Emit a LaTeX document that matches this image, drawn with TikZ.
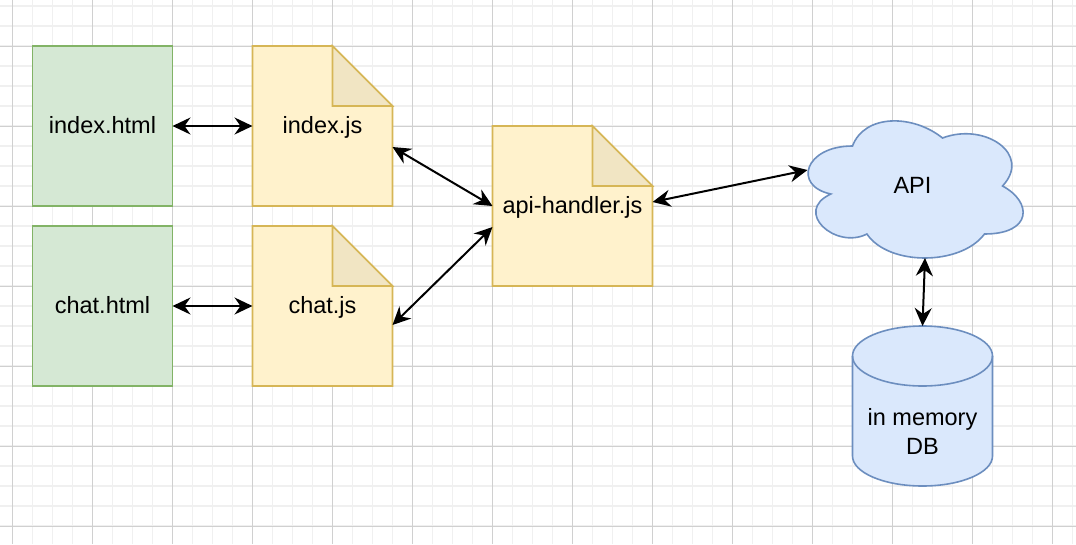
\documentclass[tikz,border=0pt]{standalone}
\usepackage{fontspec}
\setmainfont{Liberation Sans}
\usetikzlibrary{arrows.meta}

\definecolor{pageFill}{HTML}{D5E8D4}
\definecolor{pageLine}{HTML}{82B366}
\definecolor{jsFill}{HTML}{FFF2CC}
\definecolor{jsLine}{HTML}{D6B656}
\definecolor{jsFold}{HTML}{F1E5C3}
\definecolor{svcFill}{HTML}{DAE8FC}
\definecolor{svcLine}{HTML}{6C8EBF}
\definecolor{gridMinor}{HTML}{F0F0F0}
\definecolor{gridMajor}{HTML}{D0D0D0}

\pgfdeclarelayer{grid}
\pgfdeclarelayer{shapes}
\pgfsetlayers{grid,shapes,main}

\tikzset{
  label font/.style={font=\fontsize{23.5}{29}\selectfont},
  htmlpage/.style={label font, draw=pageLine, fill=pageFill, line width=1.6pt,
    minimum width=140pt, minimum height=160pt, inner sep=0pt, outer sep=0pt,
    text height=18pt, text depth=4pt},
  jsnote/.style={label font, minimum width=#1, minimum height=160pt,
    inner sep=0pt, outer sep=0pt, text height=18pt, text depth=4pt},
  jsnote/.default=140pt,
  noteline/.style={draw=jsLine, fill=jsFill, line width=1.6pt, line join=miter},
  foldline/.style={draw=jsLine, fill=jsFold, line width=1.6pt, line join=miter},
  svcline/.style={draw=svcLine, fill=svcFill, line width=1.6pt},
  tip/.tip={Stealth[length=18pt,width=17pt,inset=6pt]},
  link/.style={line width=2pt, tip-tip},
}

% folded-corner file outline drawn behind a named node
\newcommand{\foldednote}[1]{%
  \begin{pgfonlayer}{shapes}
    \path[noteline] (#1.south west) -- (#1.north west)
      -- ([xshift=-60pt]#1.north east) -- ([yshift=-60pt]#1.north east)
      -- (#1.south east) -- cycle;
    \path[foldline] ([xshift=-60pt]#1.north east)
      -- ([xshift=-60pt,yshift=-60pt]#1.north east)
      -- ([yshift=-60pt]#1.north east) -- cycle;
  \end{pgfonlayer}}

\begin{document}
\begin{tikzpicture}[x=1pt,y=-1pt]
\useasboundingbox (0,0) rectangle (1076,544);

% background grid
\begin{pgfonlayer}{grid}
  \fill[white] (0,0) rectangle (1076,544);
  \foreach \i in {0,...,53}
    \draw[gridMinor, line width=1.2pt] (12.5+20*\i,0) -- (12.5+20*\i,544);
  \foreach \j in {0,...,27}
    \draw[gridMinor, line width=1.2pt] (0,6+20*\j) -- (1076,6+20*\j);
  \foreach \i in {0,...,13}
    \draw[gridMajor, line width=0.9pt] (12.5+80*\i,0) -- (12.5+80*\i,544);
  \foreach \j in {0,...,6}
    \draw[gridMajor, line width=0.9pt] (0,46+80*\j) -- (1076,46+80*\j);
\end{pgfonlayer}

% html pages
\node[htmlpage] (ihtml) at (102.5,126) {index.html};
\node[htmlpage] (chtml) at (102.5,306) {chat.html};

% script files
\node[jsnote] (ijs) at (322.5,126) {index.js};
\foldednote{ijs}
\node[jsnote] (cjs) at (322.5,306) {chat.js};
\foldednote{cjs}
\node[jsnote=160pt] (ah) at (572.5,206) {api-handler.js};
\foldednote{ah}

% API cloud
\begin{pgfonlayer}{shapes}
  \path[svcline] (852.5,146)
    .. controls (804.5,146) and (792.5,186) .. (830.9,194)
    .. controls (792.5,211.6) and (835.7,250) .. (866.9,234)
    .. controls (888.5,266) and (960.5,266) .. (984.5,234)
    .. controls (1032.5,234) and (1032.5,202) .. (1002.5,186)
    .. controls (1032.5,154) and (984.5,122) .. (942.5,138)
    .. controls (912.5,114) and (864.5,114) .. (852.5,146) -- cycle;
\end{pgfonlayer}
\node[label font, text height=18pt, text depth=4pt] (api) at (912.5,186) {API};
\coordinate (apiW) at (807.5,170);
\coordinate (apiS) at (925,258);

% in-memory database cylinder
\begin{pgfonlayer}{shapes}
  \path[svcline] (852.5,356) -- (852.5,456)
    arc[start angle=180, end angle=360, x radius=70pt, y radius=30pt]
    -- (992.5,356)
    arc[start angle=0, end angle=180, x radius=70pt, y radius=30pt] -- cycle;
  \draw[svcLine, line width=1.6pt] (852.5,356)
    arc[start angle=180, end angle=360, x radius=70pt, y radius=30pt];
\end{pgfonlayer}
\node[label font, align=center] (db) at (922.5,431) {in memory\\DB};
\coordinate (dbtop) at (922.5,326);

% connectors
\draw[link] (ihtml.east) -- (ijs.west);
\draw[link] (chtml.east) -- (cjs.west);
\draw[link] ([yshift=-21pt]ijs.east) -- (ah.west);
\draw[link] ([yshift=-19pt]cjs.east) -- ([yshift=-21pt]ah.west);
\draw[link] ([yshift=4pt]ah.east) -- (apiW);
\draw[link] (apiS) -- (dbtop);
\end{tikzpicture}
\end{document}
